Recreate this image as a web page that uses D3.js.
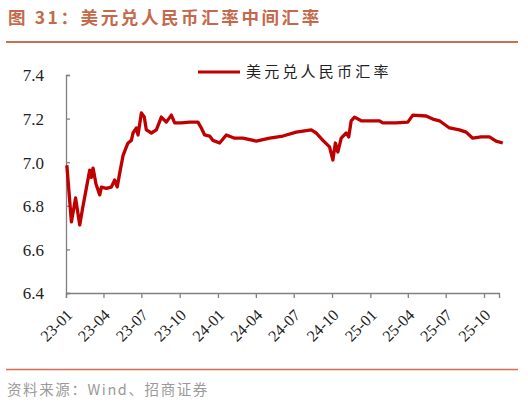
<!DOCTYPE html>
<html>
<head>
<meta charset="utf-8">
<script src="https://cdn.jsdelivr.net/npm/d3@7"></script>
<style>
  body { margin: 0; background: #fff; }
  svg { display: block; }
</style>
</head>
<body>
<svg width="528" height="404"></svg>
<script>
// USD/CNY central parity
const dates = [
  "2023-01-03", "2023-01-14", "2023-01-24", "2023-02-03", "2023-02-10", "2023-02-18",
  "2023-02-27", "2023-03-03", "2023-03-07", "2023-03-14", "2023-03-23", "2023-03-27",
  "2023-04-08", "2023-04-20", "2023-04-28", "2023-05-04", "2023-05-10", "2023-05-18",
  "2023-05-26", "2023-05-30", "2023-06-07", "2023-06-11", "2023-06-19", "2023-06-23",
  "2023-07-01", "2023-07-08", "2023-07-13", "2023-07-25", "2023-08-06", "2023-08-18",
  "2023-08-30", "2023-09-11", "2023-09-19", "2023-10-05", "2023-10-25", "2023-11-14",
  "2023-11-22", "2023-11-30", "2023-12-12", "2023-12-20", "2024-01-05", "2024-01-21",
  "2024-02-10", "2024-03-01", "2024-04-02", "2024-05-04", "2024-06-05", "2024-07-07",
  "2024-08-12", "2024-08-24", "2024-09-09", "2024-09-25", "2024-10-03", "2024-10-09",
  "2024-10-15", "2024-10-23", "2024-11-04", "2024-11-10", "2024-11-16", "2024-11-24",
  "2024-12-10", "2024-12-30", "2025-01-23", "2025-01-31", "2025-03-04", "2025-04-01",
  "2025-04-13", "2025-05-15", "2025-05-31", "2025-06-16", "2025-07-10", "2025-08-03",
  "2025-08-19", "2025-09-04", "2025-09-24", "2025-10-14", "2025-10-30", "2025-11-15"
];
const rates = [
  6.986, 6.726, 6.836, 6.712, 6.790, 6.872,
  6.964, 6.930, 6.973, 6.900, 6.850, 6.886,
  6.880, 6.886, 6.918, 6.886, 6.950, 7.030,
  7.070, 7.088, 7.100, 7.134, 7.157, 7.125,
  7.226, 7.207, 7.148, 7.134, 7.148, 7.207,
  7.184, 7.216, 7.180, 7.180, 7.184, 7.184,
  7.157, 7.125, 7.120, 7.100, 7.088, 7.125,
  7.110, 7.110, 7.097, 7.110, 7.120, 7.138,
  7.148, 7.134, 7.100, 7.070, 7.010, 7.088,
  7.047, 7.110, 7.134, 7.116, 7.190, 7.207,
  7.190, 7.190, 7.190, 7.180, 7.180, 7.184,
  7.216, 7.212, 7.198, 7.190, 7.157, 7.148,
  7.138, 7.110, 7.116, 7.116, 7.097, 7.088
];
const yTicks = [6.4, 6.6, 6.8, 7.0, 7.2, 7.4];
const xTickDates = [
  "2023-01-01", "2023-04-01", "2023-07-01", "2023-10-01",
  "2024-01-01", "2024-04-01", "2024-07-01", "2024-10-01",
  "2025-01-01", "2025-04-01", "2025-07-01", "2025-10-01"
];
const title = "图 31：美元兑人民币汇率中间汇率";
const seriesName = "美元兑人民币汇率";
const source = "资料来源：Wind、招商证券";

const parse = d3.timeParse("%Y-%m-%d");
const data = dates.map((d, i) => ({ date: parse(d), value: rates[i] }));

const svg = d3.select("svg");
const axisColor = "#808080";
const serif = "'Liberation Serif', 'Times New Roman', serif";
const cjk = "'Noto Sans CJK SC', sans-serif";

const x = d3.scaleTime()
  .domain([parse("2023-01-01"), parse("2025-11-06")])
  .range([66, 499]);
const y = d3.scaleLinear()
  .domain([6.4, 7.4])
  .range([293, 75]);

// header
svg.append("text")
  .attr("x", 8).attr("y", 24)
  .attr("fill", "#c4694b")
  .style("font-family", cjk)
  .style("font-weight", "bold")
  .style("font-size", "17.5px")
  .style("letter-spacing", "2.6px")
  .text(title);
svg.append("line")
  .attr("x1", 6).attr("x2", 518).attr("y1", 42).attr("y2", 42)
  .attr("stroke", "#c8704f").attr("stroke-width", 2.2);

// y axis (ticks point inward)
const yAxis = svg.append("g")
  .attr("transform", "translate(66,0)")
  .call(d3.axisRight(y).tickValues(yTicks).tickSize(4).tickFormat(d3.format(".1f")));
yAxis.select(".domain").attr("stroke", axisColor).attr("stroke-width", 1.3);
yAxis.selectAll(".tick line").attr("stroke", axisColor).attr("stroke-width", 1.3);
yAxis.selectAll(".tick text")
  .attr("x", -22).attr("dy", "0.35em")
  .attr("text-anchor", "end")
  .attr("fill", "#222")
  .style("font-family", serif)
  .style("font-size", "17px");

// x axis
const xAxis = svg.append("g")
  .attr("transform", "translate(0,293)")
  .call(d3.axisBottom(x).tickValues(xTickDates.map(parse)).tickSizeOuter(0).tickSize(5)
    .tickFormat(d3.timeFormat("%y-%m")));
xAxis.select(".domain").attr("stroke", axisColor).attr("stroke-width", 1.3);
xAxis.selectAll(".tick line").attr("stroke", axisColor).attr("stroke-width", 1.3);
xAxis.selectAll(".tick text")
  .attr("y", 0).attr("dy", 0)
  .attr("text-anchor", "end")
  .attr("transform", "translate(7,23) rotate(-45)")
  .attr("fill", "#222")
  .style("font-family", serif)
  .style("font-size", "16px");

// series line
const line = d3.line()
  .x(d => x(d.date))
  .y(d => y(d.value));
svg.append("path")
  .datum(data)
  .attr("d", line)
  .attr("fill", "none")
  .attr("stroke", "#c00000")
  .attr("stroke-width", 3.3)
  .attr("stroke-linejoin", "round");

// legend
svg.append("line")
  .attr("x1", 198).attr("x2", 240).attr("y1", 72).attr("y2", 72)
  .attr("stroke", "#c00000").attr("stroke-width", 3);
svg.append("text")
  .attr("x", 246).attr("y", 77)
  .attr("fill", "#222")
  .style("font-family", cjk)
  .style("font-size", "15px")
  .style("letter-spacing", "3.2px")
  .text(seriesName);

// footer
svg.append("line")
  .attr("x1", 6).attr("x2", 518).attr("y1", 369.5).attr("y2", 369.5)
  .attr("stroke", "#dc6a4c").attr("stroke-width", 1.6);
svg.append("text")
  .attr("x", 7).attr("y", 395)
  .attr("fill", "#9a9a9a")
  .style("font-family", cjk)
  .style("font-size", "14.5px")
  .style("letter-spacing", "1.6px")
  .text(source);
</script>
</body>
</html>
